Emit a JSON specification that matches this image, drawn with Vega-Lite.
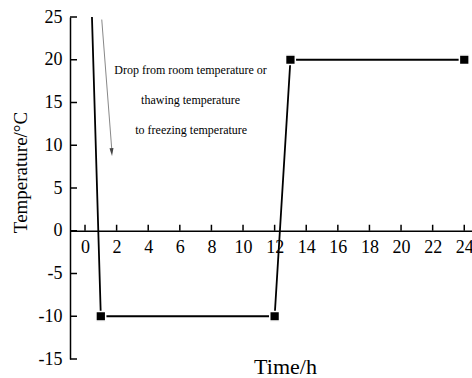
{
  "$schema": "https://vega.github.io/schema/vega-lite/v6.json",
  "width": 402,
  "height": 342,
  "autosize": {"type": "none"},
  "padding": {"left": 70, "top": 17, "right": 0, "bottom": 19},
  "background": "white",
  "config": {
    "view": {"stroke": null},
    "font": "Liberation Serif",
    "axis": {"grid": false, "domainColor": "#000", "tickColor": "#000", "labelColor": "#000", "titleColor": "#000", "labelFont": "Liberation Serif", "titleFont": "Liberation Serif", "titleFontWeight": "normal", "domainWidth": 1.5}
  },
  "datasets": {
    "series": [
      {"time": 0.44, "temp": 25},
      {"time": 1, "temp": -10},
      {"time": 12, "temp": -10},
      {"time": 13, "temp": 20},
      {"time": 24, "temp": 20}
    ],
    "arrow": [
      {"time": 1.06, "temp": 24.7},
      {"time": 1.69, "temp": 9.6}
    ],
    "arrowhead": [
      {"time": 1.71, "temp": 8.74}
    ],
    "notes": [
      {"time": 6.68, "temp": 18.8, "label": "Drop from room temperature or"},
      {"time": 6.68, "temp": 15.3, "label": "thawing temperature"},
      {"time": 6.72, "temp": 11.8, "label": "to freezing temperature"}
    ],
    "xticks": [
      {"time": 0, "temp": 0}, {"time": 2, "temp": 0}, {"time": 4, "temp": 0}, {"time": 6, "temp": 0},
      {"time": 8, "temp": 0}, {"time": 10, "temp": 0}, {"time": 12, "temp": 0}, {"time": 14, "temp": 0},
      {"time": 16, "temp": 0}, {"time": 18, "temp": 0}, {"time": 20, "temp": 0}, {"time": 22, "temp": 0},
      {"time": 24, "temp": 0}
    ],
    "yticks": [
      {"time": -0.95, "temp": -15}, {"time": -0.95, "temp": -10}, {"time": -0.95, "temp": -5},
      {"time": -0.95, "temp": 0}, {"time": -0.95, "temp": 5}, {"time": -0.95, "temp": 10},
      {"time": -0.95, "temp": 15}, {"time": -0.95, "temp": 20}, {"time": -0.95, "temp": 25}
    ]
  },
  "encoding": {
    "x": {"field": "time", "type": "quantitative", "scale": {"domain": [-0.95, 24.49], "nice": false, "zero": false},
      "axis": {"orient": "bottom", "offset": -128.25, "values": [0,2,4,6,8,10,12,14,16,18,20,22,24], "ticks": false, "labelPadding": 8, "labelFontSize": 18, "labelFlush": false, "labelExpr": "toString(datum.value)", "title": "Time/h", "titleFontSize": 22, "titleX": 215, "titleY": 143, "titleBaseline": "alphabetic", "titleAlign": "center"}},
    "y": {"field": "temp", "type": "quantitative", "scale": {"domain": [-15, 25], "nice": false, "zero": false},
      "axis": {"orient": "left", "values": [-15,-10,-5,0,5,10,15,20,25], "ticks": false, "labelPadding": 8, "labelFontSize": 18, "labelFlush": false, "labelExpr": "toString(datum.value)", "title": "Temperature/°C", "titleFontSize": 19, "titleX": -50, "titleY": 155, "titleBaseline": "middle", "titleAlign": "center", "titleAngle": -90}}
  },
  "layer": [
    {
      "data": {"name": "xticks"},
      "mark": {"type": "tick", "orient": "vertical", "color": "#000", "thickness": 1.5, "size": 6, "yOffset": -3, "opacity": 1}
    },
    {
      "data": {"name": "yticks"},
      "mark": {"type": "tick", "orient": "horizontal", "color": "#000", "thickness": 1.5, "size": 7, "xOffset": 3.5, "opacity": 1}
    },
    {
      "data": {"name": "series"},
      "mark": {"type": "line", "color": "#000", "strokeWidth": 1.8}
    },
    {
      "data": {"name": "series"},
      "transform": [{"filter": "datum.time >= 1"}],
      "mark": {"type": "point", "shape": "square", "filled": true, "color": "#000", "size": 95, "stroke": "white", "strokeWidth": 1.5, "opacity": 1}
    },
    {
      "data": {"name": "arrow"},
      "mark": {"type": "line", "color": "#888", "strokeWidth": 1}
    },
    {
      "data": {"name": "arrowhead"},
      "mark": {"type": "point", "shape": "M-0.5,-2 L0.5,-2 L0,0 Z", "filled": true, "color": "#444", "size": 64, "angle": -4, "opacity": 1}
    },
    {
      "data": {"name": "notes"},
      "mark": {"type": "text", "font": "Liberation Serif", "fontSize": 12, "color": "#000", "align": "center", "baseline": "middle"},
      "encoding": {"text": {"field": "label"}}
    }
  ]
}
